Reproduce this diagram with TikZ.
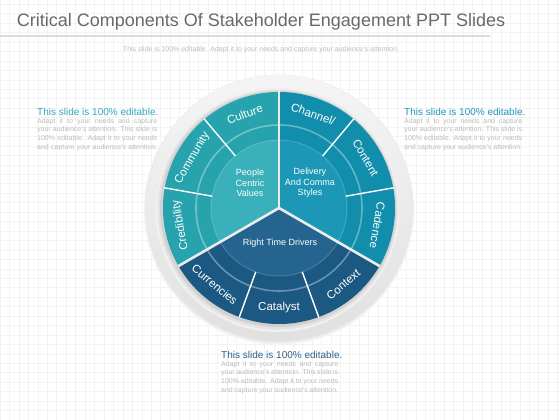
\documentclass[tikz,border=0pt]{standalone}
\usepackage{fontspec}
\setmainfont{Liberation Sans}
\usetikzlibrary{calc}
\definecolor{gridc}{RGB}{243,243,243}
\definecolor{titlegray}{RGB}{105,105,105}
\definecolor{subgray}{RGB}{190,190,190}
\definecolor{bodygray}{RGB}{188,188,188}
\definecolor{rulegray}{RGB}{220,220,220}
\definecolor{tlBand}{RGB}{38,163,173}
\definecolor{tlInner}{RGB}{58,176,186}
\definecolor{trBand}{RGB}{16,142,172}
\definecolor{trInner}{RGB}{28,152,182}
\definecolor{bBand}{RGB}{27,89,130}
\definecolor{bInner}{RGB}{36,100,142}
\definecolor{leftT}{RGB}{48,170,190}
\definecolor{rightT}{RGB}{32,150,192}
\definecolor{botT}{RGB}{45,98,140}
\definecolor{sepc}{RGB}{236,236,236}
\begin{document}
\begin{tikzpicture}[x=1pt,y=1pt,
  lab/.style={text=white,font=\fontsize{11.5}{12}\selectfont,inner sep=0pt},
  ctr/.style={text=white,font=\fontsize{9}{10.5}\selectfont,align=center,inner sep=0pt},
  body/.style={text=bodygray,font=\fontsize{7}{8.6}\selectfont,align=left,inner sep=0pt},
  btitle/.style={font=\fontsize{10}{12}\selectfont,inner sep=0pt},
  segsep/.style={white,line width=1.4pt},
  secsep/.style={sepc,line width=2.6pt}]
\useasboundingbox (0,0) rectangle (560,420);
\fill[white] (0,0) rectangle (560,420);
\draw[gridc,line width=0.5pt,step=9.45pt] (0,0) grid (560,420);

% title
\node[font=\fontsize{18}{20}\selectfont,text=titlegray,inner sep=0pt] (title) at (261,398.5) {Critical Components Of Stakeholder Engagement PPT Slides};
\coordinate (r1) at (0,384);
\coordinate (r2) at (490,384);
\draw[rulegray,line width=1.6pt] (r1) -- (r2);
\node[font=\fontsize{7}{8}\selectfont,text=subgray,inner sep=0pt] (sub) at (261,370) {This slide is 100\% editable. Adapt it to your needs and capture your audience's attention.};

% wheel
\coordinate (C) at (279,212);
\fill[black!5] ($(C)+(0,-1.5pt)$) circle (135pt);
\fill[black!9] ($(C)+(0,-0.8pt)$) circle (133.8pt);
\shade[top color=white!96!black,bottom color=white!88!black] (C) circle (133pt);
\fill[black!6] ($(C)+(-1.5pt,-2pt)$) circle (122pt);
\fill[black!11] ($(C)+(-1.2pt,-1.6pt)$) circle (120pt);
\fill[black!18] ($(C)+(-0.8pt,-1pt)$) circle (118pt);

\fill[tlBand] (C) -- ($(C)+(90:116pt)$) arc[start angle=90,end angle=210,radius=116pt] -- cycle;
\fill[trBand] (C) -- ($(C)+(-30:116pt)$) arc[start angle=-30,end angle=90,radius=116pt] -- cycle;
\fill[bBand] (C) -- ($(C)+(210:116pt)$) arc[start angle=210,end angle=330,radius=116pt] -- cycle;

\fill[tlInner] (C) -- ($(C)+(90:68pt)$) arc[start angle=90,end angle=210,radius=68pt] -- cycle;
\fill[trInner] (C) -- ($(C)+(-30:68pt)$) arc[start angle=-30,end angle=90,radius=68pt] -- cycle;
\fill[bInner] (C) -- ($(C)+(210:68pt)$) arc[start angle=210,end angle=330,radius=68pt] -- cycle;

\draw[white,opacity=0.35,line width=1.6pt] (C) circle (83pt);
\draw[white,opacity=0.18,line width=1pt] (C) circle (68pt);

\foreach \a in {130,170,50,10,250,290}{
  \draw[segsep] ($(C)+(\a:68pt)$) -- ($(C)+(\a:116.5pt)$);
}
\foreach \a in {90,210,330}{
  \draw[secsep] (C) -- ($(C)+(\a:116.5pt)$);
}

% outer labels
\node[lab,rotate=20]  (culture) at ($(C)+(110:100pt)$) {Culture};
\node[lab,rotate=60]  (community) at ($(C)+(150:100pt)$) {Community};
\node[lab,rotate=100] (credibility) at ($(C)+(190:100pt)$) {Credibility};
\node[lab,rotate=-20] (channel) at ($(C)+(70:100pt)$) {Channel/};
\node[lab,rotate=-60] (content) at ($(C)+(30:100pt)$) {Content};
\node[lab,rotate=-100] (cadence) at ($(C)+(-10:100pt)$) {Cadence};
\node[lab,rotate=-40] (currencies) at ($(C)+(230:100pt)$) {Currencies};
\node[lab] (catalyst) at ($(C)+(270:100pt)$) {Catalyst};
\node[lab,rotate=40] (context) at ($(C)+(310:100pt)$) {Context};

% center labels
\node[ctr] (people) at (250,237) {People\\Centric\\Values};
\node[ctr] (delivery) at (310,237) {Delivery\\And Comma\\Styles};
\node[ctr] (rtd) at (280,177) {Right Time Drivers};

% text blocks
\node[btitle,text=leftT,anchor=base west] (lt) at (37,304.5) {This slide is 100\% editable.};
\node[body,anchor=north west] (lb) at (37,302) {\makebox[120pt][s]{Adapt it to your needs and capture}\\\makebox[120pt][s]{your audience's attention. This slide is}\\\makebox[120pt][s]{100\% editable. Adapt it to your needs}\\\makebox[120pt][s]{and capture your audience's attention.}};

\node[btitle,text=rightT,anchor=base west] (rt) at (404,304.5) {This slide is 100\% editable.};
\node[body,anchor=north west] (rb) at (404,302) {\makebox[118pt][s]{Adapt it to your needs and capture}\\\makebox[118pt][s]{your audience's attention. This slide is}\\\makebox[118pt][s]{100\% editable. Adapt it to your needs}\\\makebox[118pt][s]{and capture your audience's attention.}};

\node[btitle,text=botT,anchor=base west] (bt) at (221,61.5) {This slide is 100\% editable.};
\node[body,anchor=north west] (bb) at (221,59) {\makebox[117pt][s]{Adapt it to your needs and capture}\\\makebox[117pt][s]{your audience's attention. This slide is}\\\makebox[117pt][s]{100\% editable. Adapt it to your needs}\\\makebox[117pt][s]{and capture your audience's attention.}};
\end{tikzpicture}
\end{document}
